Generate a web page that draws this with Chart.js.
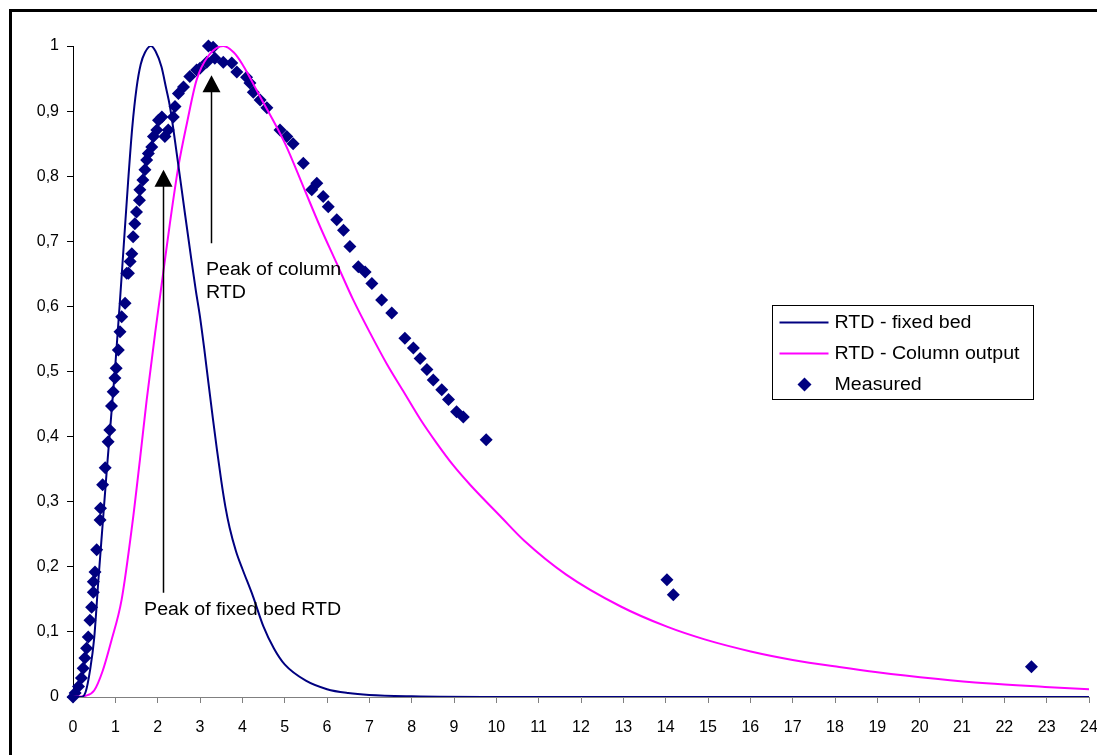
<!DOCTYPE html>
<html>
<head>
<meta charset="utf-8">
<title>RTD</title>
<script src="https://cdn.jsdelivr.net/npm/chart.js@4.4.1/dist/chart.umd.min.js"></script>
<style>
  html, body { margin: 0; padding: 0; background: #fff; }
  canvas { display: block; }
</style>
</head>
<body>
<canvas id="rtd" width="1097" height="755"></canvas>
<script>
// ─── Data ────────────────────────────────────────────────────────────────────

const fixedBedX = [0, 0.2, 0.3, 0.4, 0.5, 0.6, 0.7, 0.8, 0.9, 1.0, 1.1, 1.2, 1.3, 1.4, 1.5, 1.6, 1.7, 1.84,
    1.95, 2.09, 2.2, 2.29, 2.45, 2.65, 2.8, 2.9, 3.0, 3.1, 3.2, 3.3, 3.4, 3.5, 3.6, 3.7, 3.85, 4.0,
    4.25, 4.5, 4.75, 5.0, 5.5, 6.0, 6.5, 7.0, 8.0, 10, 12, 16, 20, 24];
const fixedBedY = [0, 0, 0.008, 0.04, 0.09, 0.18, 0.265, 0.35, 0.43, 0.51, 0.6, 0.695, 0.79, 0.875, 0.935, 0.972, 0.99, 1.0,
    0.992, 0.968, 0.935, 0.907, 0.835, 0.74, 0.67, 0.625, 0.584, 0.535, 0.482, 0.43, 0.38, 0.333, 0.292, 0.26, 0.224, 0.197,
    0.155, 0.108, 0.074, 0.05, 0.025, 0.012, 0.006, 0.003, 0.001, 0, 0, 0, 0, 0];

const columnX = [0, 0.3, 0.5, 0.7, 0.9, 1.15, 1.4, 1.58, 1.74, 1.94, 2.13, 2.29, 2.49, 2.69, 2.92, 3.2, 3.55,
    3.8, 4.0, 4.42, 5.01, 5.44, 5.84, 6.23, 6.62, 7.02, 7.41, 7.8, 8.2, 8.59, 8.98, 9.38, 10.09, 10.66,
    11.65, 12.94, 14.03, 14.92, 16.01, 17, 18.1, 19, 20.38, 21.57, 22.96, 24];
const columnY = [0, 0.002, 0.01, 0.04, 0.085, 0.15, 0.265, 0.364, 0.456, 0.559, 0.651, 0.728, 0.815, 0.881, 0.948, 0.985, 1.0,
    0.99, 0.972, 0.922, 0.85, 0.784, 0.722, 0.666, 0.61, 0.559, 0.512, 0.47, 0.427, 0.39, 0.356, 0.326, 0.278, 0.24,
    0.188, 0.139, 0.108, 0.0885, 0.07, 0.057, 0.046, 0.038, 0.028, 0.021, 0.0155, 0.0118];

const measuredX = [0, 0.05, 0.13, 0.2, 0.24, 0.28, 0.32, 0.36, 0.40, 0.44, 0.48, 0.48, 0.52, 0.56, 0.64, 0.65,
    0.70, 0.76, 0.83, 0.87, 0.91, 0.95, 0.99, 1.02, 1.07, 1.11, 1.15, 1.23, 1.27, 1.31, 1.35, 1.39,
    1.42, 1.46, 1.5, 1.57, 1.58, 1.65, 1.70, 1.74, 1.78, 1.86, 1.9, 1.98, 2.02, 2.1, 2.17, 2.25,
    2.37, 2.41, 2.49, 2.61, 2.76, 2.92, 3.0, 3.16, 3.2, 3.31, 3.35, 3.55, 3.75, 3.87, 4.1, 4.18,
    4.26, 4.42, 4.58, 4.89, 5.05, 5.2, 5.44, 5.64, 5.76, 5.91, 6.03, 6.23, 6.39, 6.54, 6.74, 6.9,
    7.06, 7.29, 7.53, 7.84, 8.04, 8.2, 8.36, 8.51, 8.71, 8.87, 9.06, 9.22, 9.76, 14.03, 14.18, 22.64];
const measuredY = [0, 0.006, 0.016, 0.029, 0.044, 0.06, 0.075, 0.092, 0.118, 0.138, 0.161, 0.177, 0.192, 0.226, 0.272, 0.29,
    0.326, 0.352, 0.392, 0.41, 0.447, 0.469, 0.49, 0.505, 0.533, 0.561, 0.584, 0.605, 0.651, 0.651, 0.669, 0.681,
    0.707, 0.727, 0.745, 0.763, 0.779, 0.794, 0.81, 0.825, 0.835, 0.845, 0.861, 0.871, 0.886, 0.891, 0.861, 0.871,
    0.891, 0.907, 0.927, 0.937, 0.953, 0.963, 0.966, 0.975, 1.0, 0.998, 0.981, 0.975, 0.974, 0.96, 0.952, 0.943,
    0.929, 0.917, 0.905, 0.871, 0.861, 0.85, 0.82, 0.779, 0.789, 0.769, 0.753, 0.733, 0.717, 0.692, 0.661, 0.653,
    0.635, 0.61, 0.59, 0.551, 0.536, 0.52, 0.503, 0.487, 0.472, 0.457, 0.438, 0.43, 0.395, 0.18, 0.157, 0.0466];

const xTicks = { min: 0, max: 24, step: 1 };
const yTicks = { min: 0, max: 1, step: 0.1 };

// arrows: x, tip y, tail y (data units); notes: x, baseline y, lines
const arrows = [
    { x: 2.12, tip: 0.81,  tail: 0.16 },
    { x: 3.27, tip: 0.955, tail: 0.697 }
];
const notes = [
    { x: 1.68, y: 0.126, lines: ['Peak of fixed bed RTD'] },
    { x: 3.14, y: 0.648, lines: ['Peak of column', 'RTD'] }
];

const NAVY = '#000080';
const PINK = '#FF00FF';
const FONT = '"Liberation Sans", Arial, sans-serif';
const TEXT_STRETCH = 1.09;   // Excel text in the picture is a bit wider than Arial

const toPoints = (xs, ys) => xs.map((x, i) => ({ x, y: ys[i] }));

function wideText(ctx, text, x, y) {
    ctx.save();
    ctx.translate(x, y);
    ctx.scale(TEXT_STRETCH, 1);
    ctx.fillText(text, 0, 0);
    ctx.restore();
}

// ─── Plugins ─────────────────────────────────────────────────────────────────

const framePlugin = {
    id: 'frame',
    beforeDraw(chart) {
        const ctx = chart.ctx;
        ctx.save();
        ctx.fillStyle = '#fff';
        ctx.fillRect(0, 0, chart.width, chart.height);
        ctx.strokeStyle = '#000';
        ctx.lineWidth = 3;
        ctx.strokeRect(10.5, 10.5, chart.width + 50, chart.height + 50);
        ctx.restore();
    }
};

const notesPlugin = {
    id: 'notes',
    afterDatasetsDraw(chart) {
        const { ctx, scales: { x, y } } = chart;
        ctx.save();
        ctx.strokeStyle = '#000';
        ctx.fillStyle = '#000';
        ctx.lineWidth = 1.5;
        arrows.forEach(a => {
            const px = Math.round(x.getPixelForValue(a.x)) + 0.5;
            const tip = y.getPixelForValue(a.tip);
            const tail = y.getPixelForValue(a.tail);
            ctx.beginPath();
            ctx.moveTo(px, tail);
            ctx.lineTo(px, tip + 14);
            ctx.stroke();
            ctx.beginPath();
            ctx.moveTo(px, tip);
            ctx.lineTo(px - 9, tip + 17);
            ctx.lineTo(px + 9, tip + 17);
            ctx.closePath();
            ctx.fill();
        });
        ctx.font = '18px ' + FONT;
        ctx.textAlign = 'left';
        ctx.textBaseline = 'alphabetic';
        notes.forEach(n => {
            const px = x.getPixelForValue(n.x);
            const py = y.getPixelForValue(n.y);
            n.lines.forEach((t, i) => wideText(ctx, t, px, py + i * 23));
        });
        ctx.restore();
    }
};

const legendPlugin = {
    id: 'boxLegend',
    afterDraw(chart) {
        const ctx = chart.ctx;
        const left = 772.5, top = 305.5, w = 261, h = 94;
        ctx.save();
        ctx.fillStyle = '#fff';
        ctx.fillRect(left, top, w, h);
        ctx.strokeStyle = '#000';
        ctx.lineWidth = 1;
        ctx.strokeRect(left, top, w, h);
        ctx.font = '18px ' + FONT;
        ctx.textBaseline = 'middle';
        ctx.textAlign = 'left';
        chart.data.datasets.forEach((ds, i) => {
            const ry = top + 17 + i * 31;
            if (ds.showLine) {
                ctx.strokeStyle = ds.borderColor;
                ctx.lineWidth = 2;
                ctx.beginPath();
                ctx.moveTo(left + 7, ry);
                ctx.lineTo(left + 56, ry);
                ctx.stroke();
            } else {
                ctx.fillStyle = ds.backgroundColor;
                ctx.beginPath();
                ctx.moveTo(left + 32, ry - 7);
                ctx.lineTo(left + 39, ry);
                ctx.lineTo(left + 32, ry + 7);
                ctx.lineTo(left + 25, ry);
                ctx.closePath();
                ctx.fill();
            }
            ctx.fillStyle = '#000';
            wideText(ctx, ds.label, left + 62, ry + 1);
        });
        ctx.restore();
    }
};

// ─── Chart ───────────────────────────────────────────────────────────────────

function yLabel(v) {
    if (Math.abs(v) < 1e-9) return '0';
    if (Math.abs(v - 1) < 1e-9) return '1';
    return v.toFixed(1).replace('.', ',');
}

new Chart(document.getElementById('rtd'), {
    type: 'scatter',
    data: {
        datasets: [
            {
                label: 'RTD - fixed bed',
                data: toPoints(fixedBedX, fixedBedY),
                showLine: true,
                borderColor: NAVY,
                backgroundColor: NAVY,
                borderWidth: 2,
                pointRadius: 0,
                cubicInterpolationMode: 'monotone'
            },
            {
                label: 'RTD - Column output',
                data: toPoints(columnX, columnY),
                showLine: true,
                borderColor: PINK,
                backgroundColor: PINK,
                borderWidth: 2,
                pointRadius: 0,
                cubicInterpolationMode: 'monotone'
            },
            {
                label: 'Measured',
                data: toPoints(measuredX, measuredY),
                showLine: false,
                pointStyle: 'rectRot',
                pointRadius: 6.5,
                borderWidth: 0,
                backgroundColor: NAVY,
                borderColor: NAVY,
                clip: false
            }
        ]
    },
    options: {
        responsive: false,
        animation: false,
        layout: { padding: { left: 10, top: 46, right: 8, bottom: 0 } },
        plugins: {
            legend: { display: false },
            tooltip: { enabled: false }
        },
        scales: {
            x: {
                type: 'linear',
                min: xTicks.min,
                max: xTicks.max,
                afterFit(scale) {
                    scale.height = 58;
                    scale.paddingLeft = 0;
                    scale.paddingRight = 0;
                },
                border: { color: '#808080', width: 1 },
                grid: { drawOnChartArea: false, color: '#808080', tickLength: 6 },
                ticks: {
                    stepSize: xTicks.step,
                    color: '#000',
                    padding: 15,
                    maxRotation: 0,
                    autoSkip: false,
                    font: { family: FONT, size: 16 }
                }
            },
            y: {
                type: 'linear',
                min: yTicks.min,
                max: yTicks.max,
                afterFit(scale) { scale.width = 63; },
                border: { color: '#000', width: 1 },
                grid: { drawOnChartArea: false, color: '#000', tickLength: 6 },
                ticks: {
                    stepSize: yTicks.step,
                    color: '#000',
                    padding: 8,
                    callback: yLabel,
                    font: { family: FONT, size: 16 }
                }
            }
        }
    },
    plugins: [framePlugin, notesPlugin, legendPlugin]
});
</script>
</body>
</html>
